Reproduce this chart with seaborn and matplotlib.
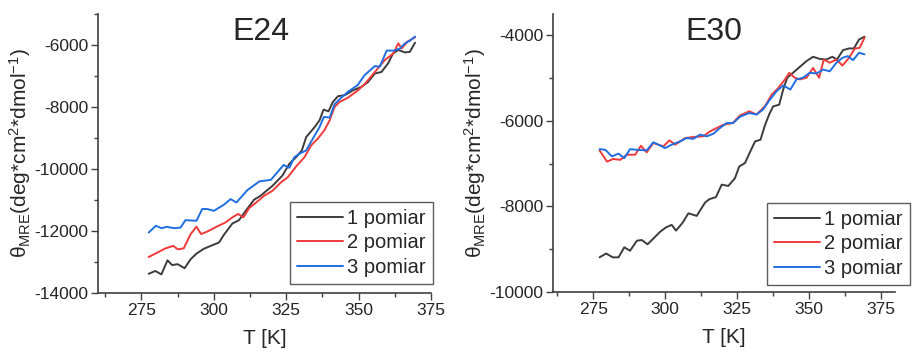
import numpy as np
import pandas as pd
import matplotlib
matplotlib.use("Agg")
import matplotlib.pyplot as plt
import seaborn as sns

# ---------------- data ----------------
series_names = ["1 pomiar", "2 pomiar", "3 pomiar"]
panel_titles = ["E24", "E30"]

e24_T1 = [277.5, 279.8, 281.9, 284.0, 285.6, 287.5, 289.9, 292.0, 294.0, 296.6, 301.8, 303.5, 306.4, 308.7,
          311.0, 313.9, 316.2, 318.2, 320.3, 323.7, 326.1, 328.4, 330.4, 331.9, 334.8, 336.5, 337.9, 339.6,
          341.1, 342.9, 345.2, 348.1, 351.0, 353.3, 355.6, 357.9, 360.2, 361.9, 363.7, 366.0, 367.7, 369.5]
e24_y1 = [-13380, -13290, -13400, -12945, -13100, -13070, -13200, -12910, -12730, -12570, -12370, -12120,
          -11760, -11650, -11350, -10990, -10860, -10700, -10540, -10210, -9830, -9620, -9400, -8970, -8650,
          -8430, -8085, -8140, -7840, -7650, -7620, -7460, -7350, -7190, -6920, -6870, -6590, -6270, -6160,
          -6240, -6220, -5925]

e24_T2 = [277.5, 280.4, 283.3, 286.0, 287.5, 289.6, 292.0, 294.0, 295.6, 297.7, 301.0, 304.1, 306.4, 308.4,
          310.2, 312.2, 315.1, 317.4, 320.3, 323.2, 325.5, 328.4, 331.3, 333.6, 335.9, 338.2, 340.0, 341.7,
          343.4, 346.3, 349.8, 352.1, 355.0, 356.7, 359.0, 362.0, 363.7, 364.9, 366.9, 369.5]
e24_y2 = [-12840, -12700, -12560, -12480, -12590, -12560, -12100, -11860, -12100, -12020, -11860, -11720,
          -11560, -11450, -11560, -11260, -11045, -10860, -10700, -10430, -10270, -9920, -9620, -9240, -9020,
          -8750, -8430, -8000, -7840, -7700, -7460, -7260, -6940, -6750, -6490, -6270, -5945, -6110, -5890,
          -5750]

e24_T3 = [277.5, 280.0, 281.9, 283.8, 286.2, 288.5, 290.2, 294.0, 296.0, 297.7, 300.0, 303.5, 305.8, 307.8,
          311.6, 315.7, 319.7, 322.0, 324.1, 326.1, 327.8, 329.5, 331.9, 334.2, 336.5, 338.0, 340.0, 341.7,
          344.0, 346.3, 349.6, 352.1, 355.6, 357.3, 359.7, 362.3, 364.3, 366.0, 367.7, 369.5]
e24_y3 = [-12050, -11830, -11910, -11865, -11910, -11890, -11650, -11670, -11290, -11290, -11350, -11150,
          -10970, -11080, -10680, -10400, -10350, -10100, -9870, -9960, -9620, -9510, -9400, -9020, -8650,
          -8320, -8340, -7910, -7700, -7510, -7300, -6970, -6680, -6700, -6180, -6180, -6110, -5945, -5860,
          -5730]

e30_T1 = [277.2, 279.5, 281.8, 283.8, 285.8, 287.8, 290.2, 291.9, 293.9, 296.0, 298.3, 300.3, 302.3, 303.8,
          306.1, 308.1, 311.0, 313.9, 315.4, 317.7, 319.7, 322.0, 324.3, 325.8, 327.8, 329.5, 331.3, 333.2,
          334.7, 336.2, 337.6, 339.7, 341.1, 342.5, 344.5, 346.9, 349.2, 351.5, 353.8, 356.1, 358.2, 359.8,
          361.9, 364.0, 365.7, 367.5, 369.4]
e30_y1 = [-9190, -9100, -9190, -9190, -8955, -9035, -8800, -8785, -8885, -8745, -8590, -8490, -8430, -8565,
          -8380, -8160, -8220, -7910, -7830, -7780, -7490, -7520, -7340, -7065, -6985, -6735, -6480, -6440,
          -6110, -5850, -5660, -5620, -5265, -4990, -4875, -4735, -4600, -4500, -4550, -4565, -4500, -4565,
          -4345, -4305, -4305, -4095, -4030]

e30_T2 = [277.2, 279.8, 282.0, 284.4, 286.7, 289.6, 291.6, 293.6, 295.9, 299.4, 301.5, 303.5, 307.0, 309.8,
          313.3, 315.6, 318.0, 320.2, 323.5, 326.0, 329.3, 331.8, 334.7, 337.1, 339.4, 341.7, 343.2, 345.1,
          346.9, 349.2, 351.5, 353.6, 355.2, 357.3, 359.6, 361.7, 364.0, 366.0, 367.7, 369.4]
e30_y2 = [-6690, -6950, -6890, -6910, -6790, -6790, -6580, -6735, -6515, -6595, -6455, -6555, -6400, -6375,
          -6360, -6245, -6165, -6090, -6050, -5875, -5775, -5850, -5660, -5385, -5230, -5030, -4875, -4990,
          -5030, -4990, -4760, -4990, -4565, -4640, -4565, -4705, -4525, -4310, -4290, -4055]

e30_T3 = [277.2, 279.2, 281.5, 283.8, 285.8, 287.8, 290.2, 293.6, 295.9, 297.7, 300.0, 302.3, 305.2, 307.5,
          309.8, 312.2, 314.5, 316.8, 319.1, 321.4, 323.7, 326.0, 329.3, 331.8, 334.1, 336.5, 338.8, 341.1,
          343.6, 345.7, 348.0, 350.3, 352.7, 355.0, 357.3, 359.6, 361.7, 363.6, 365.4, 367.5, 369.4]
e30_y3 = [-6660, -6675, -6830, -6765, -6870, -6660, -6675, -6690, -6500, -6555, -6635, -6555, -6480, -6400,
          -6420, -6320, -6360, -6300, -6165, -6050, -6050, -5905, -5815, -5850, -5735, -5500, -5305, -5170,
          -5265, -5030, -4990, -4875, -4890, -4800, -4840, -4640, -4525, -4485, -4580, -4405, -4445]

x_ticks = [275, 300, 325, 350, 375]
e24_yticks = [-14000, -12000, -10000, -8000, -6000]
e30_yticks = [-10000, -8000, -6000, -4000]

# ---------------- styling ----------------
sns.set_style("ticks")
plt.rcParams["font.family"] = ["Liberation Sans", "DejaVu Sans"]
plt.rcParams["mathtext.fontset"] = "custom"
plt.rcParams["mathtext.rm"] = "Liberation Sans"
plt.rcParams["mathtext.it"] = "Liberation Sans:italic"
plt.rcParams["mathtext.bf"] = "Liberation Sans:bold"
plt.rcParams["axes.unicode_minus"] = False

colors = ["#3c3c3c", "#f03a3a", "#1f6fe3"]
spine_col = "#404040"

fig = plt.figure(figsize=(9.13, 3.51), dpi=100)
ax1 = fig.add_axes([98 / 913, 1 - 293 / 351, 333 / 913, 279 / 351])
ax2 = fig.add_axes([553 / 913, 1 - 292 / 351, 342 / 913, 278 / 351])


def make_df(Ts, ys):
    frames = []
    for name, T, y in zip(series_names, Ts, ys):
        frames.append(pd.DataFrame({"T": T, "val": y, "series": name}))
    return pd.concat(frames, ignore_index=True)


df24 = make_df([e24_T1, e24_T2, e24_T3], [e24_y1, e24_y2, e24_y3])
df30 = make_df([e30_T1, e30_T2, e30_T3], [e30_y1, e30_y2, e30_y3])

ylabel = "θ$_{\\mathrm{MRE}}$(deg*cm$^{2}$*dmol$^{-1}$)"

panels = [
    (ax1, df24, panel_titles[0], (260, 375), (-14000, -5000), e24_yticks, (0.49, 0.935),
     (433 / 913, 1 - 284 / 351)),
    (ax2, df30, panel_titles[1], (261, 380), (-10000, -3500), e30_yticks, (0.469, 0.936),
     (910 / 913, 1 - 285 / 351)),
]

for ax, df, title, xlim, ylim, yticks, tpos, lpos in panels:
    sns.lineplot(data=df, x="T", y="val", hue="series", palette=colors, estimator=None,
                 sort=False, linewidth=1.4, ax=ax, legend=False)
    ax.set_xlim(*xlim)
    ax.set_ylim(*ylim)
    ax.set_xticks(x_ticks)
    ax.set_xticks(np.arange(262.5, xlim[1] + 0.1, 25), minor=True)
    ax.set_yticks(yticks)
    ax.set_yticks(np.arange(ylim[0] + 1000, ylim[1] + 1, 2000), minor=True)
    ax.tick_params(axis="both", which="major", direction="out", length=5, width=1,
                   color=spine_col, labelsize=12.5, pad=2)
    ax.tick_params(axis="both", which="minor", direction="out", length=3, width=1, color=spine_col)
    for s in ["top", "right"]:
        ax.spines[s].set_visible(False)
    for s in ["left", "bottom"]:
        ax.spines[s].set_color(spine_col)
        ax.spines[s].set_linewidth(1.2)
    ax.set_xlabel("T [K]", fontsize=15, labelpad=8)
    ax.set_ylabel(ylabel, fontsize=15, labelpad=1)
    ax.text(tpos[0], tpos[1], title, transform=ax.transAxes, ha="center", va="center", fontsize=23)
    handles = [plt.Line2D([], [], color=c, lw=1.4) for c in colors]
    leg = ax.legend(handles, series_names, loc="lower right", bbox_to_anchor=lpos,
                    bbox_transform=fig.transFigure, fontsize=14.5, frameon=True, fancybox=False,
                    handlelength=2.3, handletextpad=0.2, labelspacing=0.28, borderpad=0.35,
                    borderaxespad=0)
    leg.get_frame().set_edgecolor("#333333")
    leg.get_frame().set_linewidth(1.0)

fig.savefig("out.png", dpi=100)
